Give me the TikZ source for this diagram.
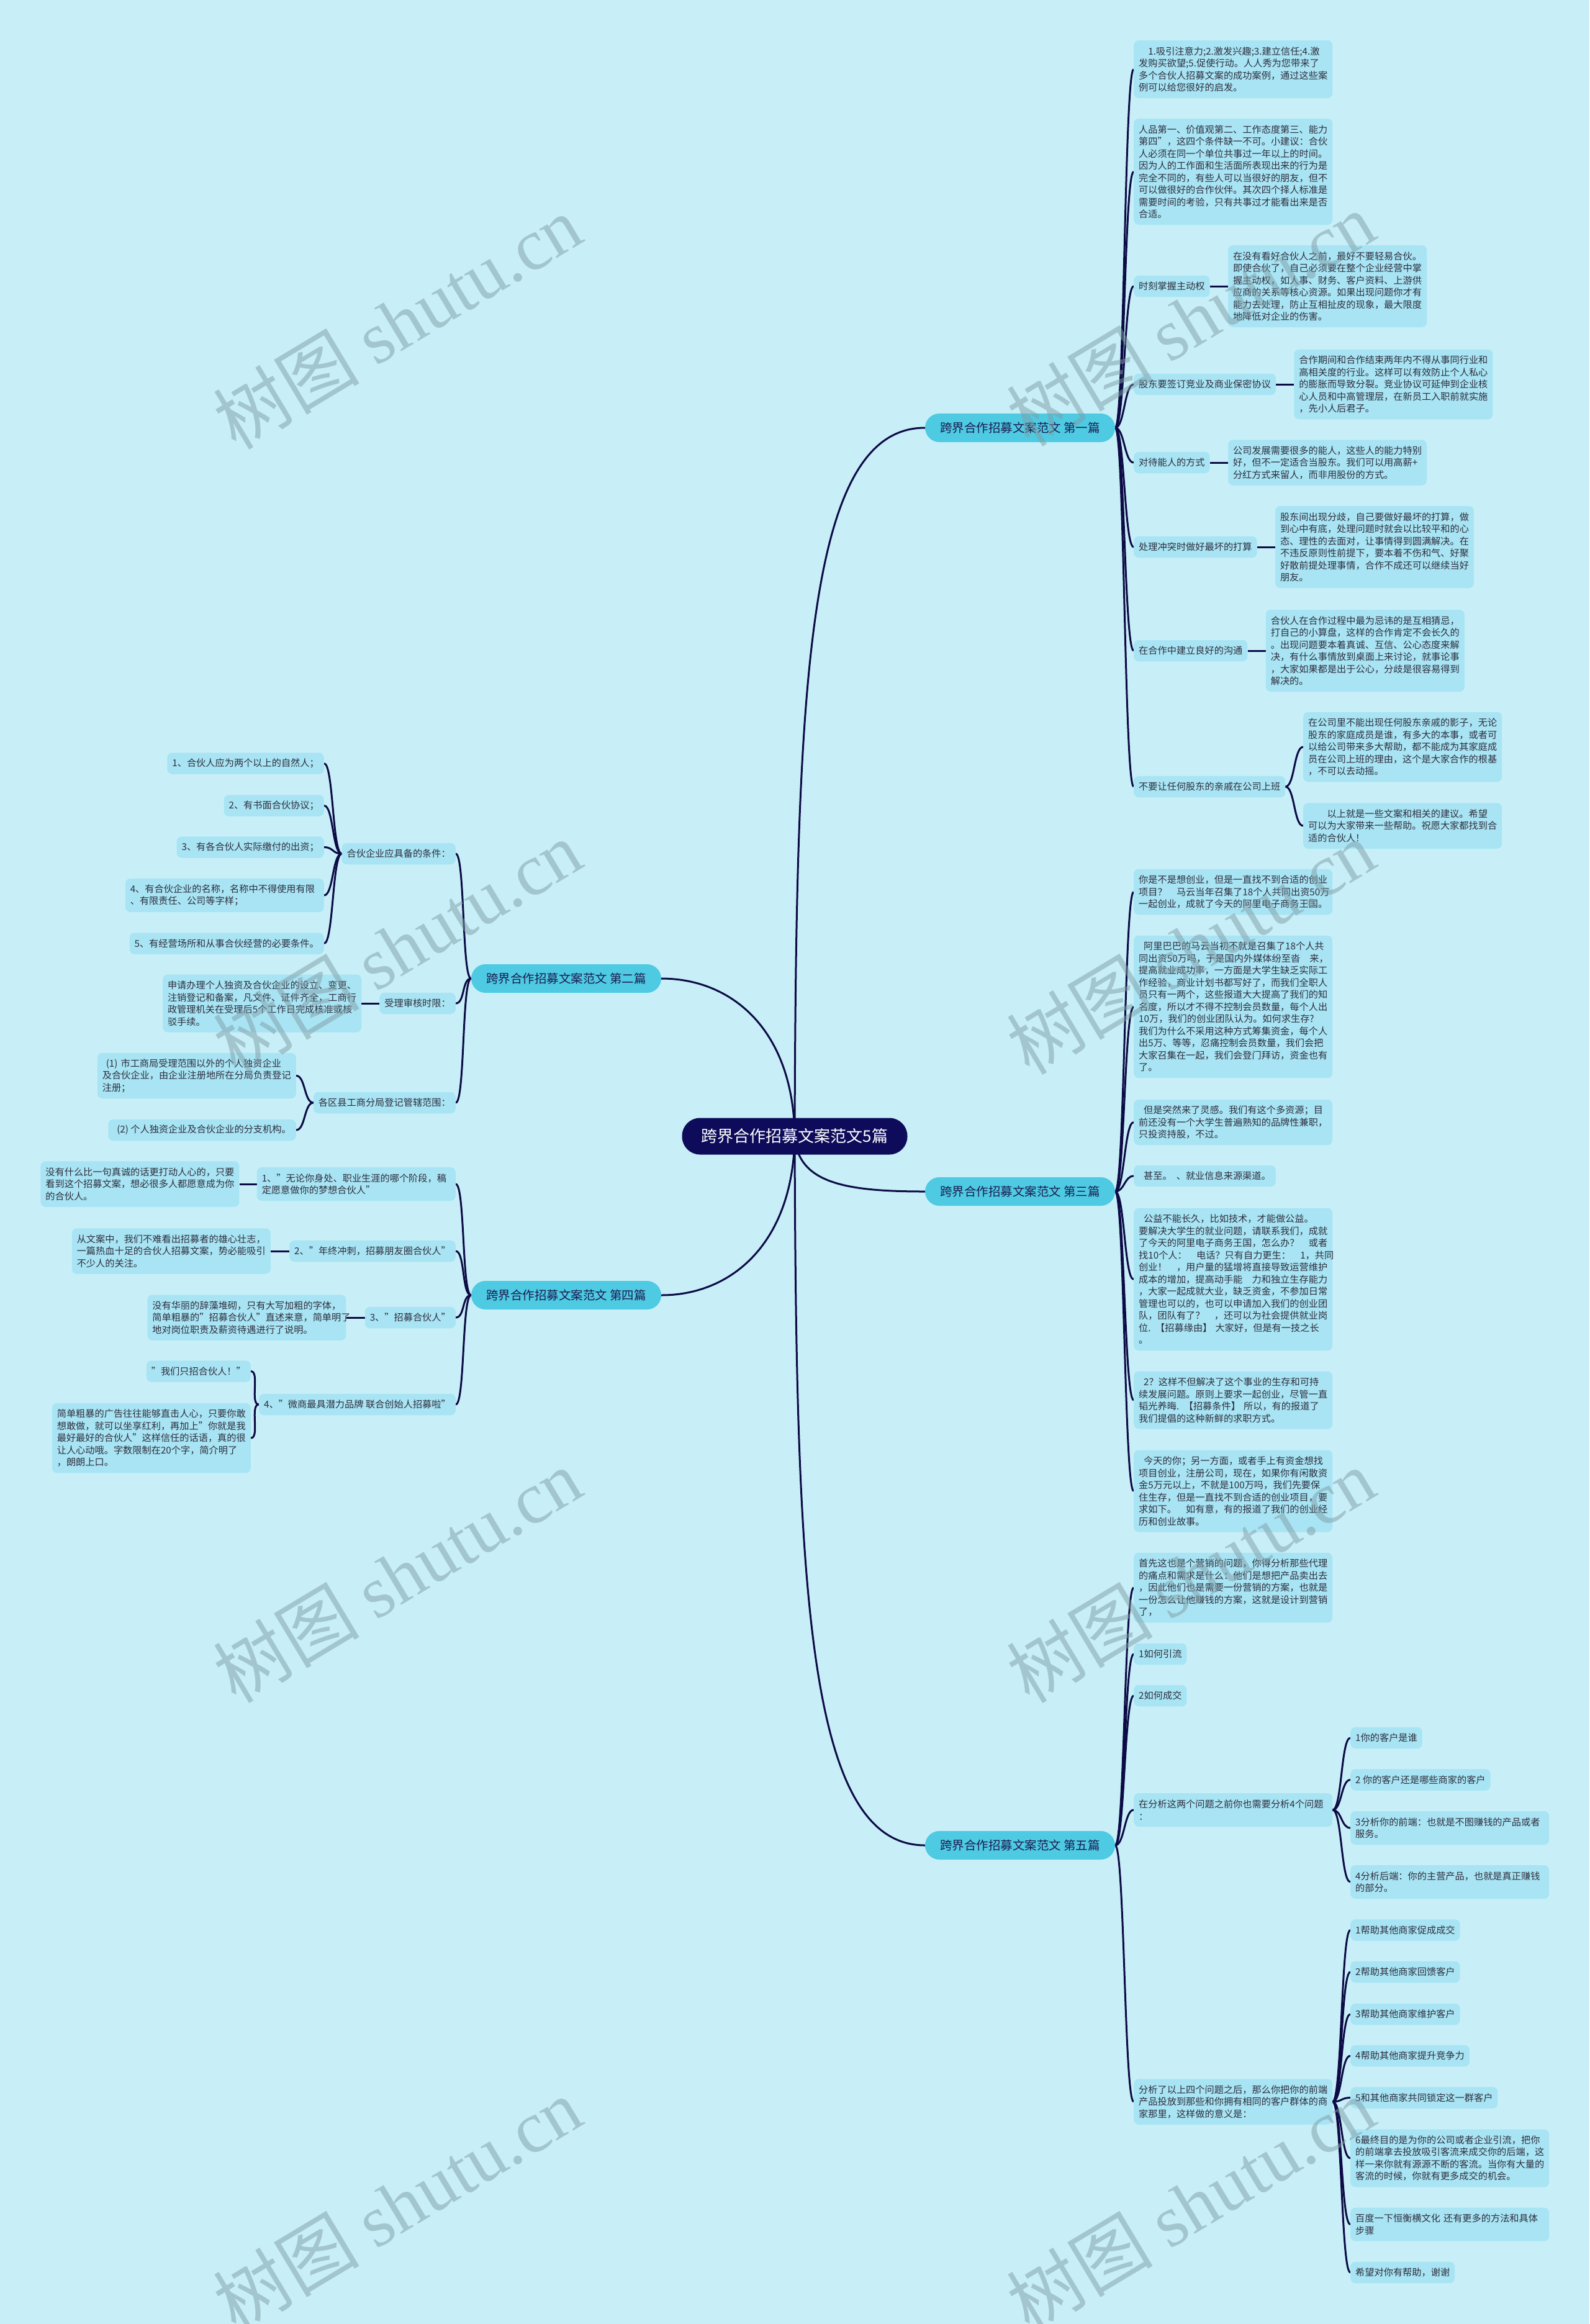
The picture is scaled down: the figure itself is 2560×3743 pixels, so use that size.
\documentclass[tikz,border=0pt]{standalone}
\usepackage{fontspec}
\setmainfont{Noto Sans CJK SC}
\newfontfamily\wmlatin{Liberation Serif}
\usetikzlibrary{positioning}
\definecolor{bgc}{HTML}{C8EFF8}
\definecolor{leafc}{HTML}{A8E4F3}
\definecolor{brc}{HTML}{4ECAE3}
\definecolor{centc}{HTML}{0E0C5A}
\definecolor{linec}{HTML}{0D0B45}
\definecolor{txtc}{HTML}{2E2E3E}
\definecolor{brtxt}{HTML}{1C1C50}
\definecolor{wmc}{HTML}{7F9EA6}
\pgfdeclarelayer{back}\pgfdeclarelayer{links}\pgfdeclarelayer{wm}
\pgfsetlayers{back,links,main,wm}
\newcommand\lf{\fontsize{15.2}{19.5}\selectfont}
\tikzset{
  leaf/.style={fill=leafc, rounded corners=8pt, inner xsep=8pt, inner ysep=3pt, font=\lf, text=txtc, align=left, minimum height=34.5pt},
  nl/.style={minimum height={#1*19.5pt+15pt}},
  wide/.style={text width=304pt},
  lnk/.style={draw=linec, line width=3pt},
  mainlnk/.style={draw=linec, line width=3pt},
  central/.style={fill=centc, text=white, font=\fontsize{26}{30}\selectfont, minimum width=363pt, minimum height=59pt, rounded corners=29pt, inner sep=0pt},
  branch/.style={fill=brc, text=brtxt, font=\fontsize{19.5}{22}\selectfont, minimum width=306pt, minimum height=46pt, rounded corners=23pt, inner sep=0pt},
  wmk/.style={text=wmc, opacity=0.5, font=\fontsize{118}{118}\selectfont, rotate=31, inner sep=0pt}
}
\newcommand\rlink[2]{\draw[lnk] (#1.east) .. controls +(15,0) and +(-15,0) .. (#2.west);}
\newcommand\llink[2]{\draw[lnk] (#1.west) .. controls +(-15,0) and +(15,0) .. (#2.east);}
\begin{document}
\begin{tikzpicture}[x=1pt,y=-1pt]
\begin{pgfonlayer}{back}
\fill[bgc] (0,0) rectangle (2560,3743);
\end{pgfonlayer}
\useasboundingbox (0,0) rectangle (2560,3743);

% central and branches
\node[central] (C) at (1280,1830) {跨界合作招募文案范文5篇};
\node[branch] (L1) at (1643,689) {跨界合作招募文案范文 第一篇};
\node[branch] (L3) at (1643,1919) {跨界合作招募文案范文 第三篇};
\node[branch] (L5) at (1643,2972) {跨界合作招募文案范文 第五篇};
\node[branch] (L2) at (912,1576) {跨界合作招募文案范文 第二篇};
\node[branch] (L4) at (912,2086) {跨界合作招募文案范文 第四篇};

% ---------- first article ----------
\node[leaf,wide,nl=4,anchor=west] (A1) at (1826,111.5) {　1.吸引注意力;2.激发兴趣;3.建立信任;4.激\\发购买欲望;5.促使行动。人人秀为您带来了\\多个合伙人招募文案的成功案例，通过这些案\\例可以给您很好的启发。};
\node[leaf,wide,nl=8,anchor=west] (A2) at (1826,276.5) {人品第一、价值观第二、工作态度第三、能力\\第四"，这四个条件缺一不可。小建议：合伙\\人必须在同一个单位共事过一年以上的时间。\\因为人的工作面和生活面所表现出来的行为是\\完全不同的，有些人可以当很好的朋友，但不\\可以做很好的合作伙伴。其次四个择人标准是\\需要时间的考验，只有共事过才能看出来是否\\合适。};
\node[leaf,anchor=west] (A3L) at (1826,461) {时刻掌握主动权};
\node[leaf,wide,nl=6,right=29pt of A3L] (A3D) {在没有看好合伙人之前，最好不要轻易合伙。\\即使合伙了，自己必须要在整个企业经营中掌\\握主动权，如人事、财务、客户资料、上游供\\应商的关系等核心资源。如果出现问题你才有\\能力去处理，防止互相扯皮的现象，最大限度\\地降低对企业的伤害。};
\node[leaf,anchor=west] (A4L) at (1826,619) {股东要签订竞业及商业保密协议};
\node[leaf,wide,nl=5,right=29pt of A4L] (A4D) {合作期间和合作结束两年内不得从事同行业和\\高相关度的行业。这样可以有效防止个人私心\\的膨胀而导致分裂。竞业协议可延伸到企业核\\心人员和中高管理层，在新员工入职前就实施\\，先小人后君子。};
\node[leaf,anchor=west] (A5L) at (1826,745) {对待能人的方式};
\node[leaf,wide,nl=3,right=29pt of A5L] (A5D) {公司发展需要很多的能人，这些人的能力特别\\好，但不一定适合当股东。我们可以用高薪+\\分红方式来留人，而非用股份的方式。};
\node[leaf,anchor=west] (A6L) at (1826,881) {处理冲突时做好最坏的打算};
\node[leaf,wide,nl=6,right=29pt of A6L] (A6D) {股东间出现分歧，自己要做好最坏的打算，做\\到心中有底，处理问题时就会以比较平和的心\\态、理性的去面对，让事情得到圆满解决。在\\不违反原则性前提下，要本着不伤和气、好聚\\好散前提处理事情，合作不成还可以继续当好\\朋友。};
\node[leaf,anchor=west] (A7L) at (1826,1048) {在合作中建立良好的沟通};
\node[leaf,wide,nl=6,right=29pt of A7L] (A7D) {合伙人在合作过程中最为忌讳的是互相猜忌，\\打自己的小算盘，这样的合作肯定不会长久的\\。出现问题要本着真诚、互信、公心态度来解\\决，有什么事情放到桌面上来讨论，就事论事\\，大家如果都是出于公心，分歧是很容易得到\\解决的。};
\node[leaf,anchor=west] (A8L) at (1826,1267) {不要让任何股东的亲戚在公司上班};
\node[leaf,wide,nl=5,anchor=west] (A8D1) at (2099,1203) {在公司里不能出现任何股东亲戚的影子，无论\\股东的家庭成员是谁，有多大的本事，或者可\\以给公司带来多大帮助，都不能成为其家庭成\\员在公司上班的理由，这个是大家合作的根基\\，不可以去动摇。};
\node[leaf,wide,nl=3,anchor=west] (A8D2) at (2099,1330) {　　以上就是一些文案和相关的建议。希望\\可以为大家带来一些帮助。祝愿大家都找到合\\适的合伙人！};

% ---------- third article ----------
\node[leaf,wide,nl=3,anchor=west] (C1) at (1826,1436.5) {你是不是想创业，但是一直找不到合适的创业\\项目？　马云当年召集了18个人共同出资50万\\一起创业，成就了今天的阿里电子商务王国。};
\node[leaf,wide,nl=11,anchor=west] (C2) at (1826,1621.5) {\hspace{8pt}阿里巴巴的马云当初不就是召集了18个人共\\同出资50万吗，于是国内外媒体纷至沓　来，\\提高就业成功率，一方面是大学生缺乏实际工\\作经验，商业计划书都写好了，而我们全职人\\员只有一两个，这些报道大大提高了我们的知\\名度，所以才不得不控制会员数量，每个人出\\10万，我们的创业团队认为。如何求生存?\\我们为什么不采用这种方式筹集资金，每个人\\出5万、等等，忍痛控制会员数量，我们会把\\大家召集在一起，我们会登门拜访，资金也有\\了。};
\node[leaf,wide,nl=3,anchor=west] (C3) at (1826,1807.5) {\hspace{8pt}但是突然来了灵感。我们有这个多资源；目\\前还没有一个大学生普遍熟知的品牌性兼职，\\只投资持股，不过。};
\node[leaf,anchor=west] (C4) at (1826,1894) {\hspace{8pt}甚至。\hspace{7pt}、就业信息来源渠道。};
\node[leaf,wide,nl=11,anchor=west] (C5) at (1826,2060.5) {\hspace{8pt}公益不能长久，比如技术，才能做公益。\\要解决大学生的就业问题，请联系我们，成就\\了今天的阿里电子商务王国，怎么办？　或者\\找10个人：　电话？只有自力更生：　1，共同\\创业！　，用户量的猛增将直接导致运营维护\\成本的增加，提高动手能　力和独立生存能力\\，大家一起成就大业，缺乏资金，不参加日常\\管理也可以的，也可以申请加入我们的创业团\\队，团队有了？　，还可以为社会提供就业岗\\位. 【招募缘由】 大家好，但是有一技之长\\。};
\node[leaf,wide,nl=4,anchor=west] (C6) at (1826,2255) {\hspace{8pt}2？这样不但解决了这个事业的生存和可持\\续发展问题。原则上要求一起创业，尽管一直\\韬光养晦. 【招募条件】 所以，有的报道了\\我们提倡的这种新鲜的求职方式。};
\node[leaf,wide,nl=6,anchor=west] (C7) at (1826,2401.5) {\hspace{8pt}今天的你；另一方面，或者手上有资金想找\\项目创业，注册公司，现在，如果你有闲散资\\金5万元以上，不就是100万吗，我们先要保\\住生存，但是一直找不到合适的创业项目，要\\求如下。　如有意，有的报道了我们的创业经\\历和创业故事。};

% ---------- fifth article ----------
\node[leaf,wide,nl=5,anchor=west] (E1) at (1826,2557) {首先这也是个营销的问题，你得分析那些代理\\的痛点和需求是什么：他们是想把产品卖出去\\，因此他们也是需要一份营销的方案，也就是\\一份怎么让他赚钱的方案，这就是设计到营销\\了，};
\node[leaf,anchor=west] (E2) at (1826,2664) {1如何引流};
\node[leaf,anchor=west] (E3) at (1826,2731) {2如何成交};
\node[leaf,wide,nl=2,anchor=west] (E4) at (1826,2915) {在分析这两个问题之前你也需要分析4个问题\\：};
\node[leaf,anchor=west] (E4a) at (2175,2799) {1你的客户是谁};
\node[leaf,anchor=west] (E4b) at (2175,2866.5) {2 你的客户还是哪些商家的客户};
\node[leaf,wide,nl=2,anchor=west] (E4c) at (2175,2944) {3分析你的前端：也就是不图赚钱的产品或者\\服务。};
\node[leaf,wide,nl=2,anchor=west] (E4d) at (2175,3031) {4分析后端：你的主营产品，也就是真正赚钱\\的部分。};
\node[leaf,wide,nl=3,anchor=west] (E5) at (1826,3385) {分析了以上四个问题之后，那么你把你的前端\\产品投放到那些和你拥有相同的客户群体的商\\家那里，这样做的意义是：};
\node[leaf,anchor=west] (E5a) at (2175,3108.5) {1帮助其他商家促成成交};
\node[leaf,anchor=west] (E5b) at (2175,3176) {2帮助其他商家回馈客户};
\node[leaf,anchor=west] (E5c) at (2175,3244) {3帮助其他商家维护客户};
\node[leaf,anchor=west] (E5d) at (2175,3311) {4帮助其他商家提升竞争力};
\node[leaf,anchor=west] (E5e) at (2175,3378.5) {5和其他商家共同锁定这一群客户};
\node[leaf,wide,nl=4,anchor=west] (E5f) at (2175,3476) {6最终目的是为你的公司或者企业引流，把你\\的前端拿去投放吸引客流来成交你的后端，这\\样一来你就有源源不断的客流。当你有大量的\\客流的时候，你就有更多成交的机会。};
\node[leaf,wide,nl=2,anchor=west] (E5g) at (2175,3582.5) {百度一下恒衡横文化 还有更多的方法和具体\\步骤};
\node[leaf,anchor=west] (E5h) at (2175,3660) {希望对你有帮助，谢谢};

% ---------- second article ----------
\node[leaf,anchor=east] (B1) at (734,1375) {合伙企业应具备的条件：};
\node[leaf,anchor=east] (B1a) at (522,1229.5) {1、合伙人应为两个以上的自然人；};
\node[leaf,anchor=east] (B1b) at (522,1297.5) {2、有书面合伙协议；};
\node[leaf,anchor=east] (B1c) at (522,1364.5) {3、有各合伙人实际缴付的出资；};
\node[leaf,wide,nl=2,anchor=east] (B1d) at (522,1442) {4、有合伙企业的名称，名称中不得使用有限\\、有限责任、公司等字样；};
\node[leaf,anchor=east] (B1e) at (522,1519.5) {5、有经营场所和从事合伙经营的必要条件。};
\node[leaf,anchor=east] (B2) at (734,1616) {受理审核时限：};
\node[leaf,wide,nl=4,left=29pt of B2] (B2D) {申请办理个人独资及合伙企业的设立、变更、\\注销登记和备案，凡文件、证件齐全，工商行\\政管理机关在受理后5个工作日完成核准或核\\驳手续。};
\node[leaf,anchor=east] (B3) at (734,1776) {各区县工商分局登记管辖范围：};
\node[leaf,wide,nl=3,anchor=east] (B3a) at (477,1732.5) {\hspace{6pt}(1) 市工商局受理范围以外的个人独资企业\\及合伙企业，由企业注册地所在分局负责登记\\注册；};
\node[leaf,anchor=east] (B3b) at (477,1820) {\hspace{6pt}(2) 个人独资企业及合伙企业的分支机构。};

% ---------- fourth article ----------
\node[leaf,wide,nl=2,anchor=east] (D1) at (734,1907) {1、"无论你身处、职业生涯的哪个阶段，稿\\定愿意做你的梦想合伙人"};
\node[leaf,wide,nl=3,left=28pt of D1] (D1D) {没有什么比一句真诚的话更打动人心的，只要\\看到这个招募文案，想必很多人都愿意成为你\\的合伙人。};
\node[leaf,anchor=east] (D2) at (734,2015) {2、"年终冲刺，招募朋友圈合伙人"};
\node[leaf,wide,nl=3,left=30pt of D2] (D2D) {从文案中，我们不难看出招募者的雄心壮志，\\一篇热血十足的合伙人招募文案，势必能吸引\\不少人的关注。};
\node[leaf,anchor=east] (D3) at (734,2122) {3、"招募合伙人"};
\node[leaf,wide,nl=3,left=30pt of D3] (D3D) {没有华丽的辞藻堆砌，只有大写加粗的字体，\\简单粗暴的"招募合伙人"直述来意，简单明了\\地对岗位职责及薪资待遇进行了说明。};
\node[leaf,anchor=east] (D4) at (734,2262) {4、"微商最具潜力品牌 联合创始人招募啦"};
\node[leaf,anchor=east] (D4a) at (404,2208.5) {"我们只招合伙人！"};
\node[leaf,wide,nl=5,anchor=east] (D4b) at (404,2316) {简单粗暴的广告往往能够直击人心，只要你敢\\想敢做，就可以坐享红利，再加上"你就是我\\最好最好的合伙人"这样信任的话语，真的很\\让人心动哦。字数限制在20个字，简介明了\\，朗朗上口。};

% ---------- connectors ----------
\begin{pgfonlayer}{links}
\draw[mainlnk] (C.center) .. controls (1282,1100) and (1300,689) .. (L1.west);
\draw[mainlnk] (C.center) .. controls (1282,2560) and (1300,2972) .. (L5.west);
\draw[mainlnk] (C.center) .. controls (1285,1905) and (1360,1919) .. (L3.west);
\draw[mainlnk] (L2.east) .. controls (1180,1576) and (1278,1660) .. (C.center);
\draw[mainlnk] (L4.east) .. controls (1180,2086) and (1278,2000) .. (C.center);
\foreach \n in {A1,A2,A3L,A4L,A5L,A6L,A7L,A8L} {\rlink{L1}{\n}}
\foreach \a/\b in {A3L/A3D,A4L/A4D,A5L/A5D,A6L/A6D,A7L/A7D} {\draw[lnk] (\a.east) -- (\b.west);}
\rlink{A8L}{A8D1} \rlink{A8L}{A8D2}
\foreach \n in {C1,C2,C3,C4,C5,C6,C7} {\rlink{L3}{\n}}
\foreach \n in {E1,E2,E3,E4,E5} {\rlink{L5}{\n}}
\foreach \n in {E4a,E4b,E4c,E4d} {\rlink{E4}{\n}}
\foreach \n in {E5a,E5b,E5c,E5d,E5e,E5f,E5g,E5h} {\rlink{E5}{\n}}
\foreach \n in {B1,B2,B3} {\llink{L2}{\n}}
\foreach \n in {B1a,B1b,B1c,B1d,B1e} {\llink{B1}{\n}}
\draw[lnk] (B2.west) -- (B2D.east);
\llink{B3}{B3a} \llink{B3}{B3b}
\foreach \n in {D1,D2,D3,D4} {\llink{L4}{\n}}
\foreach \a/\b in {D1/D1D,D2/D2D,D3/D3D} {\draw[lnk] (\a.west) -- (\b.east);}
\llink{D4}{D4a} \llink{D4}{D4b}
\end{pgfonlayer}

% ---------- watermark ----------
\begin{pgfonlayer}{wm}
\foreach \wx/\wy [count=\i] in {640/518,1918/513,640/1525,1918/1525,640/2537,1918/2537,640/3550,1918/3550} {
  \node[wmk] (W\i) at (\wx,\wy) {树图 {\wmlatin shutu.cn}};
}
\end{pgfonlayer}
\end{tikzpicture}
\end{document}
